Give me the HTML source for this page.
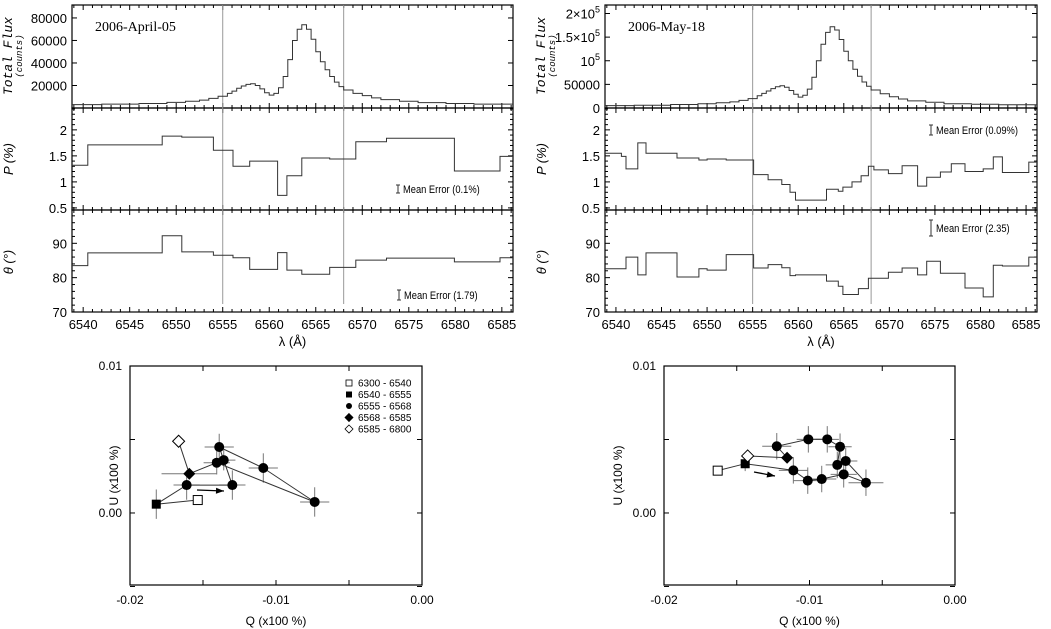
<!DOCTYPE html>
<html><head><meta charset="utf-8"><style>
html,body{margin:0;padding:0;background:#fff;}
svg{display:block;font-family:"Liberation Sans",sans-serif;}
</style></head><body>
<svg id="fig" width="1051" height="629" viewBox="0 0 1051 629" xmlns="http://www.w3.org/2000/svg"></svg>
<script>
// ---------- DATA ----------
const fluxLam = [6538.8,6542,6546,6549,6551,6552.5,6553.5,6554.5,6555.5,6556,6556.5,6557,6557.5,6558,6558.5,6559,6559.5,6560,6560.5,6561,6561.5,6562,6562.5,6563,6563.5,6564,6564.5,6565,6565.5,6566,6566.5,6567,6567.5,6568,6569,6570,6571,6572,6574,6576,6579,6582];
const fluxLeft = [3000,3500,4000,5000,6000,7000,8500,10500,13000,15000,17500,19500,21000,21500,20000,17000,13500,11500,13000,18000,28000,43000,60000,70000,74000,70000,61000,50000,41000,34000,28000,23000,19000,16000,13000,11000,9000,7500,6000,4800,4000,3500];
const fluxRight = [5000,6000,7500,9000,11000,13000,16000,20000,26000,31000,36000,41000,45000,47000,44000,37000,29000,23000,27000,40000,65000,100000,135000,160000,172000,165000,145000,120000,100000,82000,67000,55000,46000,38000,30000,24000,19000,15000,12000,9000,8000,7000];

const pLamLeft = [6538.8,6540.5,6548.5,6550.6,6554.0,6556.1,6557.9,6560.9,6561.9,6563.5,6566.5,6569.3,6572.6,6579.9,6584.8];
const pLeft = [1.32,1.71,1.88,1.86,1.61,1.30,1.40,0.74,1.12,1.46,1.44,1.77,1.84,1.21,1.49];
const thLeft = [83.5,87.2,92.2,87.5,86.5,85.8,82.4,87.3,82.2,81.0,83.0,85.1,85.7,84.6,85.8];

const pLamRight = [6538.8,6540.6,6541.1,6542.4,6543.3,6546.7,6549.1,6550.0,6552.1,6555.1,6556.7,6558.2,6559.1,6559.7,6563.1,6564.4,6564.9,6565.9,6566.9,6567.7,6568.3,6569.9,6571.4,6573.1,6574.1,6575.6,6576.8,6578.3,6580.3,6581.4,6582.4,6585.3];
const pRight = [1.55,1.49,1.25,1.75,1.55,1.46,1.42,1.44,1.42,1.14,1.04,0.95,0.80,0.65,0.86,0.82,0.90,1.00,1.12,1.30,1.23,1.16,1.31,0.92,1.09,1.19,1.35,1.20,1.25,1.48,1.18,1.38];
const thLamRight = [6538.8,6541.1,6542.4,6543.3,6546.7,6549.1,6550.0,6552.1,6555.1,6556.7,6558.2,6559.1,6559.7,6563.1,6564.4,6564.9,6566.6,6567.7,6569.9,6571.4,6573.1,6574.1,6575.6,6578.3,6580.3,6581.4,6582.4,6585.3];
const thRight = [82.6,86.0,80.8,87.2,80.2,82.6,82.2,86.7,82.8,83.8,82.9,80.6,80.8,79.0,77.5,75.1,76.8,79.8,81.6,82.8,80.8,84.8,81.3,77.0,74.4,83.6,83.4,86.0];

const qLeft = [-0.01536,-0.0182,-0.01612,-0.01299,-0.01358,-0.01389,-0.01087,-0.00735,-0.01406,-0.01594,-0.01667];
const uLeft = [0.00088,0.0006,0.0019,0.0019,0.0036,0.00449,0.00306,0.00075,0.00342,0.00267,0.00488];
const kindLeft = ['osq','fsq','c','c','c','c','c','c','c','fd','od'];
const qErrLeft = [0,0,0.0009,0.0009,0.0008,0.001,0.001,0.001,0.0009,0.0019,0];
const uErrLeft = [0,0.001,0.001,0.001,0.0007,0.0009,0.001,0.001,0.0008,0,0];

const qRight = [-0.01631,-0.01442,-0.01111,-0.01012,-0.00916,-0.00765,-0.00612,-0.00751,-0.00809,-0.0079,-0.00878,-0.01008,-0.01225,-0.01154,-0.01425];
const uRight = [0.00288,0.00335,0.0029,0.0022,0.00231,0.00263,0.00206,0.00354,0.00327,0.00451,0.00501,0.00501,0.00454,0.00376,0.00388];
const kindRight = ['osq','fsq','c','c','c','c','c','c','c','c','c','c','c','fd','od'];
const qErrRight = [0,0,0.001,0.001,0.001,0.0009,0.0012,0.0008,0.0008,0.0008,0.0008,0.0008,0.001,0,0];
const uErrRight = [0,0.0005,0.0009,0.0009,0.0009,0.0009,0.0009,0.0009,0.0009,0.0009,0.0009,0.0009,0.0009,0,0];

const legendLabels = ['6300 - 6540','6540 - 6555','6555 - 6568','6568 - 6585','6585 - 6800'];
const legendKinds = ['osq','fsq','c','fd','od'];
const waveTicks = [6540,6545,6550,6555,6560,6565,6570,6575,6580,6585];

// ---------- DRAWING ----------
const NS = 'http://www.w3.org/2000/svg';
const svg = document.getElementById('fig');
function mk(tag, attrs, parent){
  const e = document.createElementNS(NS, tag);
  for (const k in attrs) e.setAttribute(k, attrs[k]);
  (parent||svg).appendChild(e);
  return e;
}
function lin(d0,d1,r0,r1){ return v => r0 + (v-d0)/(d1-d0)*(r1-r0); }
const LMIN = 6538.8, LMAX = 6586.2;

function stepPath(lams, vals, xs, ys){
  let d = '';
  for (let i=0;i<vals.length;i++){
    const a = xs(lams[i]), b = xs(i+1<lams.length?lams[i+1]:LMAX), y = ys(vals[i]);
    d += (i===0?'M':'L') + a.toFixed(1)+','+y.toFixed(1)+' L'+b.toFixed(1)+','+y.toFixed(1)+' ';
  }
  return d;
}

function spectrumColumn(side, x0, x1, fluxVals, fluxMax, fluxTicks, fluxLabels, pLam, pVals, thLam, thVals, dateText, errP, errTh){
  const g = mk('g', {});
  
  
  const xs = lin(LMIN, LMAX, x0, x1);
  const panels = [[5,108],[108,210],[210,312]];
  panels.forEach((p,i)=>{
    const r = mk('rect',{x:x0,y:p[0],width:x1-x0,height:p[1]-p[0],fill:'none',stroke:'#000','stroke-width':1.2},g);
    
    
    for (let l=6539;l<=6586;l++){
      const x = xs(l), len = (l%5===0)?5:3;
      mk('line',{x1:x,x2:x,y1:p[1],y2:p[1]-len,stroke:'#000','stroke-width':1},g);
      mk('line',{x1:x,x2:x,y1:p[0],y2:p[0]+len,stroke:'#000','stroke-width':1},g);
    }
  });
  [6555,6568].forEach(l=>{
    const ln = mk('line',{x1:xs(l),x2:xs(l),y1:5,y2:304,stroke:'#999','stroke-width':1},g);
    
    
  });
  const yf = lin(0, fluxMax, 108, 5);
  fluxTicks.forEach((t,i)=>{
    const y = yf(t);
    mk('line',{x1:x0,x2:x0+5,y1:y,y2:y,stroke:'#000'},g);
    mk('line',{x1:x1,x2:x1-5,y1:y,y2:y,stroke:'#000'},g);
    const tx = mk('text',{x:x0-5,y:y+5,'text-anchor':'end','font-size':13},g);
    tx.innerHTML = fluxLabels[i];
    
    
  });
  const fp = mk('path',{d:stepPath(fluxLam, fluxVals, xs, yf),fill:'none',stroke:'#333','stroke-width':1},g);
  
  
  const yp = lin(0.46, 2.42, 210, 108);
  for (let v=0.5; v<=2.41; v+=0.1){
    const y = yp(v), big = Math.abs(v*2-Math.round(v*2))<0.01;
    mk('line',{x1:x0,x2:x0+(big?5:3),y1:y,y2:y,stroke:'#000'},g);
    mk('line',{x1:x1,x2:x1-(big?5:3),y1:y,y2:y,stroke:'#000'},g);
  }
  [0.5,1,1.5,2].forEach(v=>{
    const tx = mk('text',{x:x0-5,y:yp(v)+5,'text-anchor':'end','font-size':13},g);
    tx.textContent = String(v);
    
    
  });
  const pp = mk('path',{d:stepPath(pLam, pVals, xs, yp),fill:'none',stroke:'#333','stroke-width':1},g);
  
  
  const yt = lin(70, 99.7, 312, 210);
  for (let v=70; v<=98; v+=2){
    const y = yt(v), big = v%10===0;
    mk('line',{x1:x0,x2:x0+(big?5:3),y1:y,y2:y,stroke:'#000'},g);
    mk('line',{x1:x1,x2:x1-(big?5:3),y1:y,y2:y,stroke:'#000'},g);
  }
  [70,80,90].forEach(v=>{
    const tx = mk('text',{x:x0-5,y:yt(v)+5,'text-anchor':'end','font-size':13},g);
    tx.textContent = String(v);
    
    
  });
  const tp = mk('path',{d:stepPath(thLam, thVals, xs, yt),fill:'none',stroke:'#333','stroke-width':1},g);
  
  
  waveTicks.forEach(l=>{
    const tx = mk('text',{x:xs(l),y:329,'text-anchor':'middle','font-size':13},g);
    tx.textContent = String(l);
    
    
  });
  const xl = mk('text',{x:(x0+x1)/2,y:346,'text-anchor':'middle','font-size':13},g);
  xl.textContent = 'λ (Å)';
  
  
  const yx = x0-60;
  const t1 = mk('text',{x:0,y:0,transform:`translate(${yx},56) rotate(-90)`,'text-anchor':'middle','font-size':13,'font-style':'italic','font-family':'Liberation Mono, monospace'},g);
  t1.textContent = 'Total Flux';
  
  
  const t2 = mk('text',{x:0,y:0,transform:`translate(${yx+10},56) rotate(-90)`,'text-anchor':'middle','font-size':9,'font-style':'italic','font-family':'Liberation Mono, monospace'},g);
  t2.textContent = '(counts)';
  
  
  const t3 = mk('text',{x:0,y:0,transform:`translate(${yx+1},159) rotate(-90)`,'text-anchor':'middle','font-size':13,'font-style':'italic'},g);
  t3.textContent = 'P  (%)';
  
  
  const t4 = mk('text',{x:0,y:0,transform:`translate(${yx+1},262) rotate(-90)`,'text-anchor':'middle','font-size':13,'font-style':'italic'},g);
  t4.textContent = 'θ  (°)';
  
  
  const dt = mk('text',{x:x0+23,y:31,'font-size':14,'font-family':'Liberation Serif, serif'},g);
  dt.textContent = dateText;
  
  
  [errP, errTh].forEach((e,i)=>{
    const bx = e.x, y = e.y;
    mk('line',{x1:bx,x2:bx,y1:y-e.h,y2:y+e.h,stroke:'#333'},g);
    mk('line',{x1:bx-2,x2:bx+2,y1:y-e.h,y2:y-e.h,stroke:'#333'},g);
    mk('line',{x1:bx-2,x2:bx+2,y1:y+e.h,y2:y+e.h,stroke:'#333'},g);
    const tx = mk('text',{x:bx+5,y:y+4,'font-size':11,transform:`translate(${bx+5},0) scale(0.85,1) translate(${-(bx+5)},0)`},g);
    tx.textContent = e.t;
    
    
  });
}

spectrumColumn('left', 72, 513, fluxLeft, 91500, [20000,40000,60000,80000], ['20000','40000','60000','80000'],
  pLamLeft, pLeft, pLamLeft, thLeft, '2006-April-05',
  {x:398,y:189,h:4,t:'Mean Error (0.1%)'}, {x:399,y:295,h:5,t:'Mean Error (1.79)'});
spectrumColumn('right', 605, 1037, fluxRight, 218000, [0,50000,100000,150000,200000],
  ['0','50000','10<tspan dy="-6" font-size="9">5</tspan>','1.5×10<tspan dy="-6" font-size="9">5</tspan>','2×10<tspan dy="-6" font-size="9">5</tspan>'],
  pLamRight, pRight, thLamRight, thRight, '2006-May-18',
  {x:931,y:130,h:5,t:'Mean Error (0.09%)'}, {x:931,y:228,h:8,t:'Mean Error (2.35)'});

function marker(g, kind, x, y){
  let e;
  if (kind==='c') e = mk('circle',{cx:x,cy:y,r:5,fill:'#000'},g);
  else if (kind==='osq') e = mk('rect',{x:x-4.5,y:y-4.5,width:9,height:9,fill:'#fff',stroke:'#000'},g);
  else if (kind==='fsq') e = mk('rect',{x:x-4.5,y:y-4.5,width:9,height:9,fill:'#000'},g);
  else if (kind==='fd') e = mk('path',{d:`M${x},${y-6}L${x+6},${y}L${x},${y+6}L${x-6},${y}Z`,fill:'#000'},g);
  else e = mk('path',{d:`M${x},${y-6}L${x+6},${y}L${x},${y+6}L${x-6},${y}Z`,fill:'#fff',stroke:'#000'},g);
  return e;
}

function quPlot(side, x0, x1, qs, us, kinds, qe, ue, arrow, showLegend, ylabX){
  const g = mk('g', {});
  
  
  const y0 = 366, y1 = 585;
  const xq = lin(-0.02, 0, x0, x1), yu = lin(-0.00490, 0.01, y1, y0);
  const fr = mk('rect',{x:x0,y:y0,width:x1-x0,height:y1-y0,fill:'none',stroke:'#000','stroke-width':1.2},g);
  
  
  [-0.02,-0.015,-0.01,-0.005,0].forEach(q=>{
    const x = xq(q);
    mk('line',{x1:x,x2:x,y1:y0,y2:y0+5,stroke:'#000'},g);
    mk('line',{x1:x,x2:x,y1:y1,y2:y1-5,stroke:'#000'},g);
  });
  [-0.02,-0.01,0].forEach((q,i)=>{
    const tx = mk('text',{x:xq(q),y:604,'text-anchor':'middle','font-size':12},g);
    tx.textContent = ['-0.02','-0.01','0.00'][i];
    
    
  });
  [-0.005,0,0.005,0.01].forEach(u=>{
    const y = yu(u);
    mk('line',{x1:x0,x2:x0+5,y1:y,y2:y,stroke:'#000'},g);
    mk('line',{x1:x1,x2:x1-5,y1:y,y2:y,stroke:'#000'},g);
  });
  [0,0.01].forEach((u,i)=>{
    const tx = mk('text',{x:x0-8,y:yu(u)+4,'text-anchor':'end','font-size':12},g);
    tx.textContent = ['0.00','0.01'][i];
    
    
  });
  const xt = mk('text',{x:(x0+x1)/2,y:625,'text-anchor':'middle','font-size':12},g);
  xt.textContent = 'Q (x100 %)';
  
  
  const yt = mk('text',{x:0,y:0,transform:`translate(${ylabX},${(y0+y1)/2}) rotate(-90)`,'text-anchor':'middle','font-size':12},g);
  yt.textContent = 'U (x100 %)';
  
  
  qs.forEach((q,i)=>{
    const x = xq(q), y = yu(us[i]);
    if (qe[i]) mk('line',{x1:xq(q-qe[i]),x2:xq(q+qe[i]),y1:y,y2:y,stroke:'#777'},g);
    if (ue[i]) mk('line',{x1:x,x2:x,y1:yu(us[i]-ue[i]),y2:yu(us[i]+ue[i]),stroke:'#777'},g);
  });
  let d = '';
  qs.forEach((q,i)=>{ d += (i?'L':'M')+xq(q).toFixed(1)+','+yu(us[i]).toFixed(1); });
  const pl = mk('path',{d:d,fill:'none',stroke:'#333','stroke-width':1},g);
  
  
  qs.forEach((q,i)=>{
    const m = marker(g, kinds[i], xq(q), yu(us[i]));
    
    
  });
  const ar = mk('g',{},g);
  
  
  mk('line',{x1:arrow[0],y1:arrow[1],x2:arrow[2],y2:arrow[3],stroke:'#000','stroke-width':1.3},ar);
  const ang = Math.atan2(arrow[3]-arrow[1], arrow[2]-arrow[0]);
  const hx = arrow[2], hy = arrow[3];
  const p1 = [hx-8*Math.cos(ang)+3*Math.sin(ang), hy-8*Math.sin(ang)-3*Math.cos(ang)];
  const p2 = [hx-8*Math.cos(ang)-3*Math.sin(ang), hy-8*Math.sin(ang)+3*Math.cos(ang)];
  mk('path',{d:`M${hx},${hy}L${p1[0]},${p1[1]}L${p2[0]},${p2[1]}Z`,fill:'#000'},ar);
  if (showLegend){
    const lg = mk('g',{},g);
    
    
    legendLabels.forEach((lab,i)=>{
      const y = 383 + i*11.5;
      const k = legendKinds[i];
      let e;
      if (k==='c') e = mk('circle',{cx:349,cy:y,r:3,fill:'#000'},lg);
      else if (k==='osq') e = mk('rect',{x:346,y:y-3,width:6,height:6,fill:'#fff',stroke:'#000','stroke-width':0.8},lg);
      else if (k==='fsq') e = mk('rect',{x:346,y:y-3,width:6,height:6,fill:'#000'},lg);
      else e = mk('path',{d:`M349,${y-4}L353,${y}L349,${y+4}L345,${y}Z`,fill:k==='fd'?'#000':'#fff',stroke:'#000','stroke-width':0.8},lg);
      const tx = mk('text',{x:358,y:y+3.5,'font-size':10},lg);
      tx.textContent = lab;
      
      
    });
  }
}

quPlot('left', 130, 422, qLeft, uLeft, kindLeft, qErrLeft, uErrLeft, [197,490,224,491], true, 118);
quPlot('right', 664, 955, qRight, uRight, kindRight, qErrRight, uErrRight, [754,472,775,476], false, 622);
</script>
</body></html>
